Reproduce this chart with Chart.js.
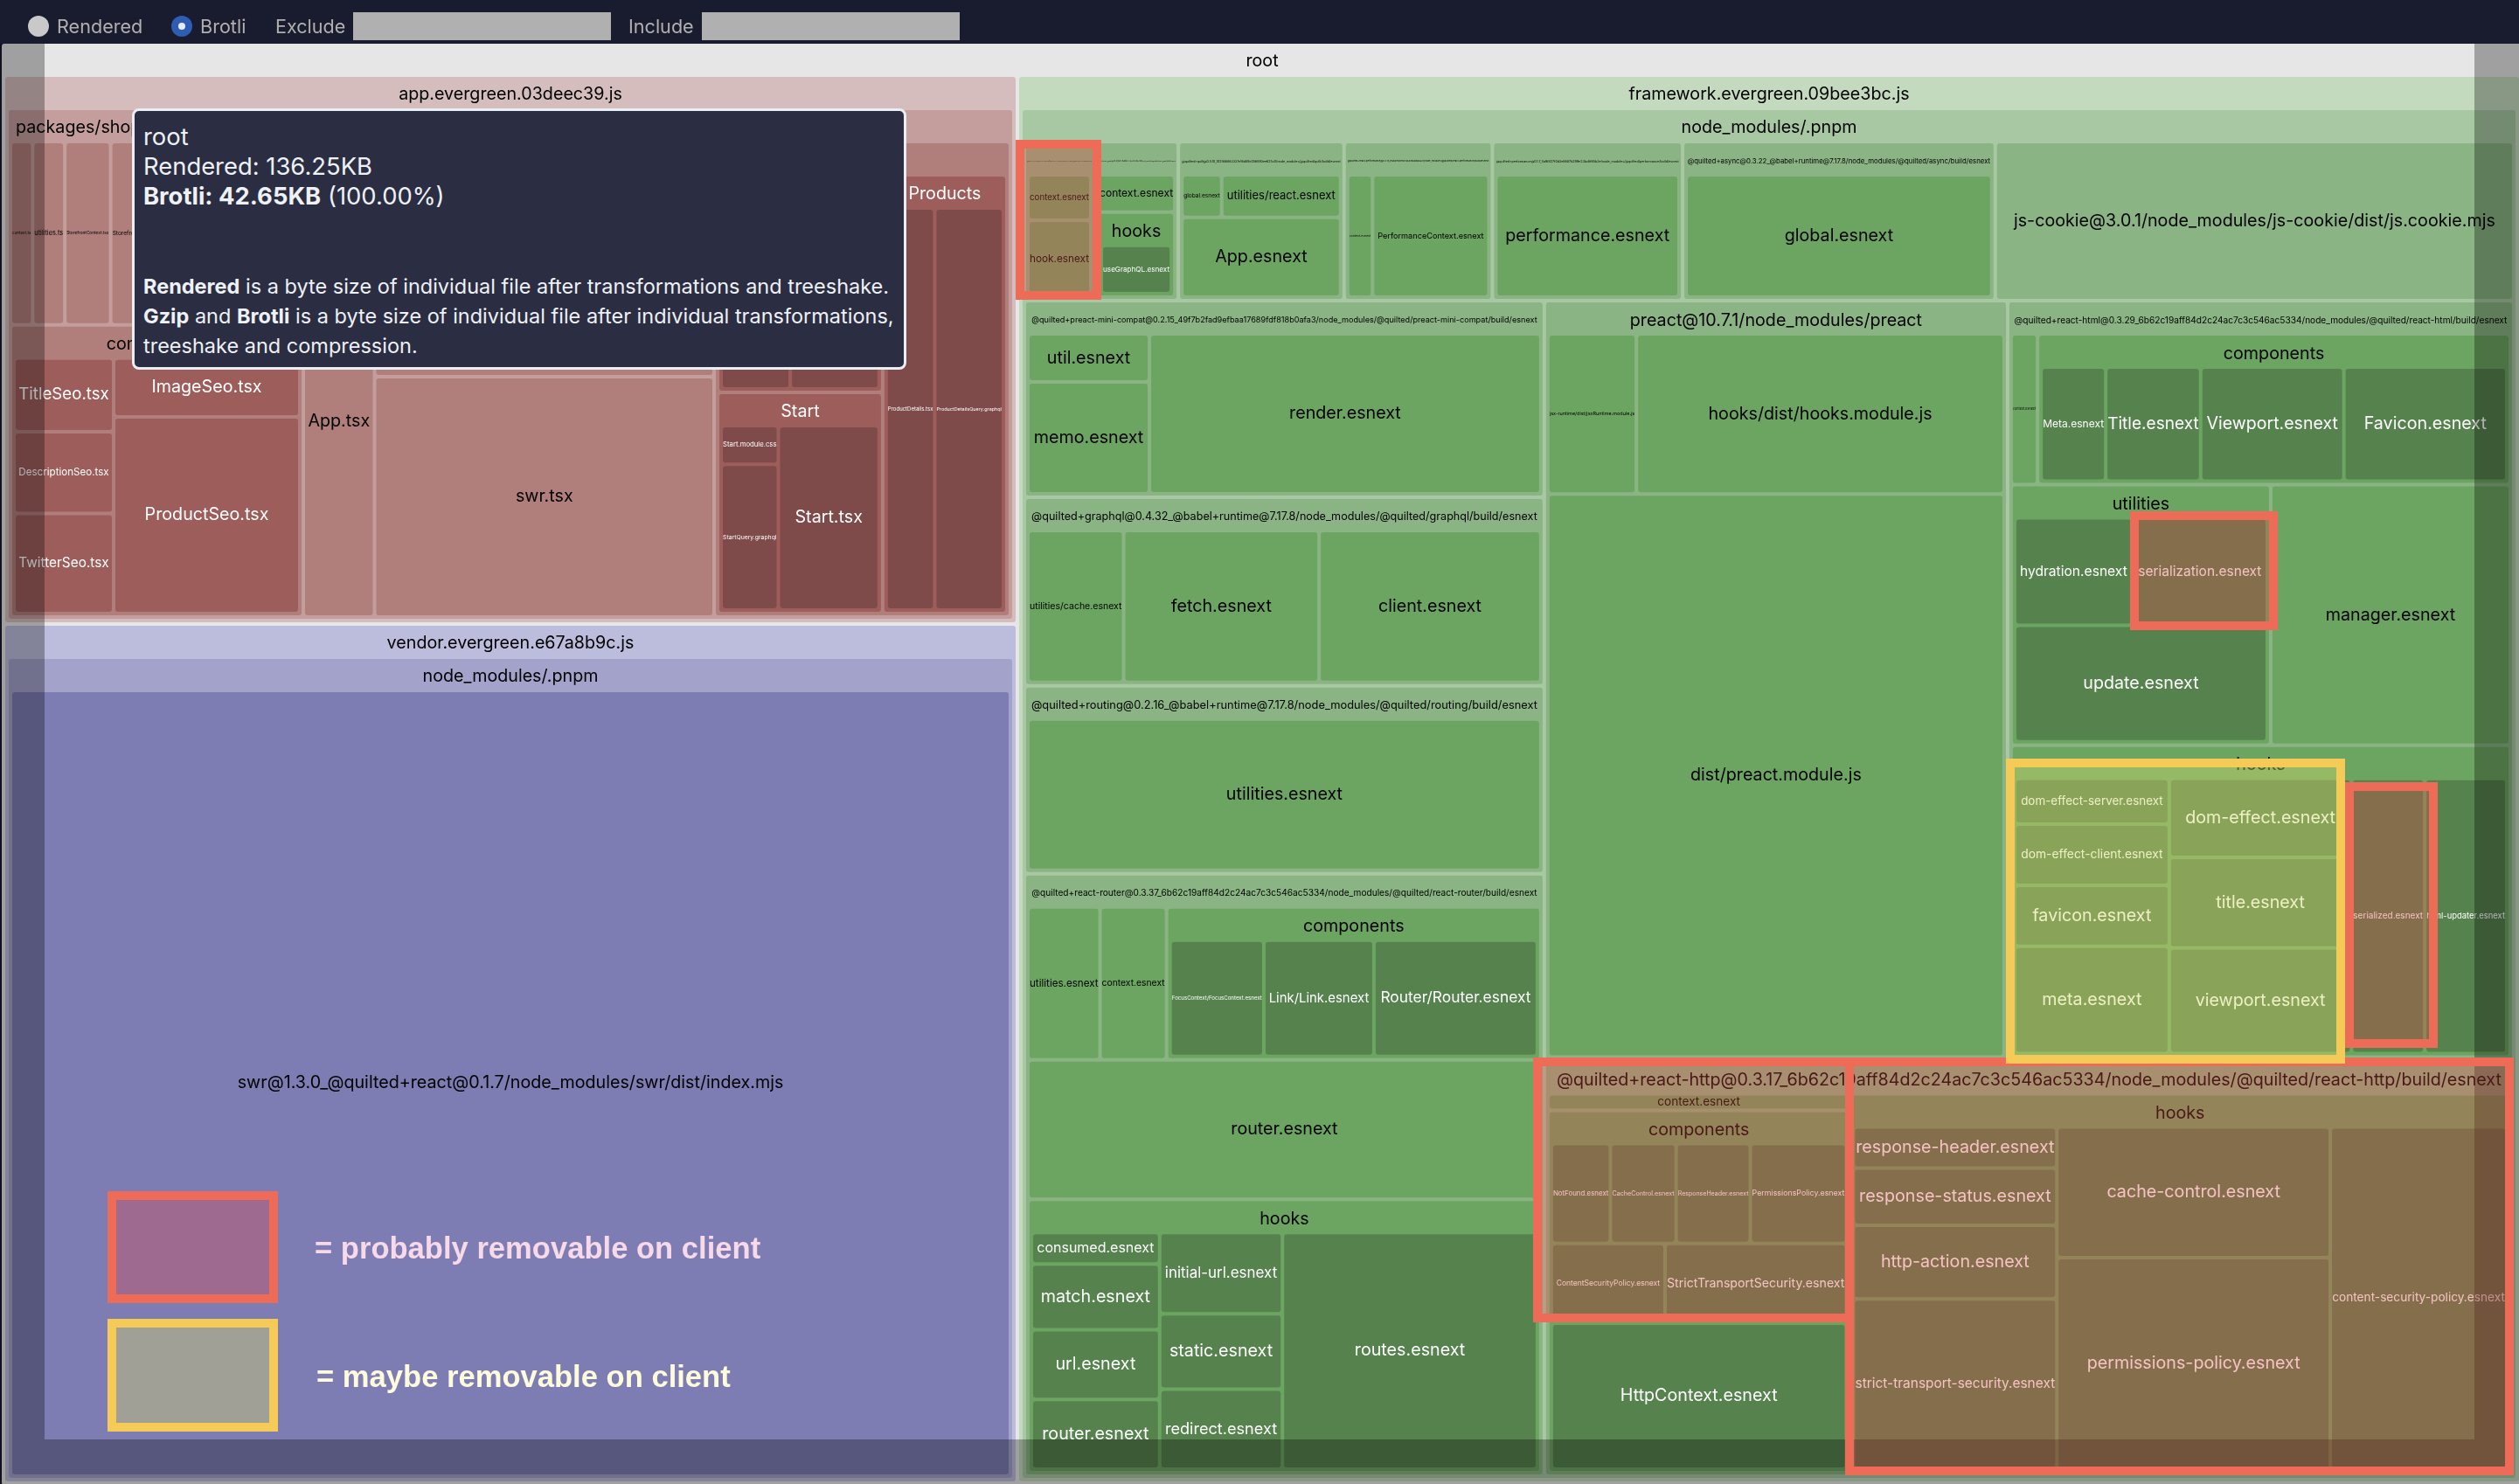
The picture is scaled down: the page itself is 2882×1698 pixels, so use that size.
<!DOCTYPE html>
<html>
<head>
<meta charset="utf-8">
<title>Bundle treemap</title>
<script src="https://cdn.jsdelivr.net/npm/chart.js@4/dist/chart.umd.js"></script>
<style>
    html, body { margin: 0; padding: 0; width: 2882px; height: 1698px; overflow: hidden; background: #191b2e; font-family: 'Inter', sans-serif; }
    #treemap { position: absolute; left: 0; top: 0; display: block; }
    .ctl { position: absolute; top: 14px; height: 32px; line-height: 32px; font-size: 21.6px; color: #b0b0b0; white-space: nowrap; }
    .radio { position: absolute; top: 18px; width: 24px; height: 24px; border-radius: 50%; background: #c9c9c9; }
    .radio.on { background: #2f5db4; }
    .radio.on::after { content: ''; position: absolute; left: 8px; top: 8px; width: 8px; height: 8px; border-radius: 50%; background: #e8eef8; }
    .field { position: absolute; top: 14px; height: 32px; width: 295px; background: #b0b0b0; }
    #tip { position: absolute; left: 151px; top: 124px; width: 880px; height: 293px; background: #2b2e42; border: 3px solid #e9edf4; border-radius: 8px; color: #eef1f6; white-space: nowrap; }
    #tip div { position: absolute; left: 10px; height: 34px; line-height: 34px; }
    #tip .big { font-size: 27.4px; }
    #tip .small { font-size: 23.5px; }
    #tip b { font-weight: 700; }
    .note { position: absolute; font-family: 'Liberation Sans', sans-serif; font-weight: 700; font-size: 34.6px; line-height: 40px; white-space: nowrap; }
</style>
</head>
<body>
<canvas id="treemap" width="2882" height="1698"></canvas>

<div class="radio" style="left:32px"></div>
<div class="ctl" style="left:65px">Rendered</div>
<div class="radio on" style="left:196px"></div>
<div class="ctl" style="left:229px">Brotli</div>
<div class="ctl" style="left:315px">Exclude</div>
<div class="field" style="left:404px"></div>
<div class="ctl" style="left:719px">Include</div>
<div class="field" style="left:803px"></div>

<div id="tip">
    <div class="big" style="top:12px">root</div>
    <div class="big" style="top:46px">Rendered: 136.25KB</div>
    <div class="big" style="top:80px"><b>Brotli: 42.65KB</b> (100.00%)</div>
    <div class="small" style="top:184px"><b>Rendered</b> is a byte size of individual file after transformations and treeshake.</div>
    <div class="small" style="top:218px"><b>Gzip</b> and <b>Brotli</b> is a byte size of individual file after individual transformations,</div>
    <div class="small" style="top:252px">treeshake and compression.</div>
</div>

<div class="note" style="left:360px;top:1408px;color:#f8d9e8">= probably removable on client</div>
<div class="note" style="left:362px;top:1555px;color:#fdfbd9">= maybe removable on client</div>

<script>
// Module names and sizes (bytes), listed in tree order
const rootName = 'root';
const rootSize = 42650;

const appNames = [
    'app.evergreen.03deec39.js', 'packages/shop',
    'context.ts', 'utilities.ts', 'StorefrontContext.tsx', 'StorefrontProvider.tsx', '',
    'components', 'TitleSeo.tsx', 'DescriptionSeo.tsx', 'TwitterSeo.tsx', 'ImageSeo.tsx', 'ProductSeo.tsx',
    '', 'App.tsx', '', 'swr.tsx',
    '', '', '', '', 'Start', 'Start.module.css', 'StartQuery.graphql', 'Start.tsx',
    'Products', 'ProductDetails.tsx', 'ProductDetailsQuery.graphql'
];
const appSizes = [
    6493, 6019,
    41, 63, 93, 130, 278,
    972, 80, 89, 110, 118, 412,
    378, 309, 590, 943,
    1596, 408, 139, 181, 415, 23, 93, 210,
    615, 210, 304
];

const vendorNames = ['vendor.evergreen.e67a8b9c.js', 'node_modules/.pnpm', 'swr@1.3.0_@quilted+react@0.1.7/node_modules/swr/dist/index.mjs'];
const vendorSizes = [10187, 9691, 9192];

const frameworkNames = [
    'framework.evergreen.09bee3bc.js', 'node_modules/.pnpm',
    '@quilted+react-query@0.3.40_6b62c19aff84d2c24ac7c3c546ac5334/node_modules/@quilted/react-query/build/esnext', 'context.esnext', 'hook.esnext',
    '@quilted+react-graphql@0.4.40_6b62c19aff84d2c24ac7c3c546ac5334/node_modules/@quilted/react-graphql/build/esnext', 'context.esnext', 'hooks', 'useGraphQL.esnext',
    '@quilted+quilt@0.5.10_102566863337e16d89c056893ee625c0/node_modules/@quilted/quilt/build/esnext', 'global.esnext', 'utilities/react.esnext', 'App.esnext',
    '@quilted+react-performance@0.3.18_e669e00e8914667d2b6b62c1/node_modules/@quilted/react-performance/build/esnext', 'context.esnext', 'PerformanceContext.esnext',
    '@quilted+performance@0.1.7_4a9f827f0d3e8687b299e23bc6f65b3e/node_modules/@quilted/performance/build/esnext', 'performance.esnext',
    '@quilted+async@0.3.22_@babel+runtime@7.17.8/node_modules/@quilted/async/build/esnext', 'global.esnext',
    'js-cookie@3.0.1/node_modules/js-cookie/dist/js.cookie.mjs',
    '@quilted+preact-mini-compat@0.2.15_49f7b2fad9efbaa17689fdf818b0afa3/node_modules/@quilted/preact-mini-compat/build/esnext', 'util.esnext', 'memo.esnext', 'render.esnext',
    '@quilted+graphql@0.4.32_@babel+runtime@7.17.8/node_modules/@quilted/graphql/build/esnext', 'utilities/cache.esnext', 'fetch.esnext', 'client.esnext',
    '@quilted+routing@0.2.16_@babel+runtime@7.17.8/node_modules/@quilted/routing/build/esnext', 'utilities.esnext',
    '@quilted+react-router@0.3.37_6b62c19aff84d2c24ac7c3c546ac5334/node_modules/@quilted/react-router/build/esnext', 'utilities.esnext', 'context.esnext',
    'components', 'FocusContext/FocusContext.esnext', 'Link/Link.esnext', 'Router/Router.esnext', 'router.esnext',
    'hooks', 'consumed.esnext', 'match.esnext', 'url.esnext', 'router.esnext', 'initial-url.esnext', 'static.esnext', 'redirect.esnext', 'routes.esnext',
    'preact@10.7.1/node_modules/preact', 'jsx-runtime/dist/jsxRuntime.module.js', 'hooks/dist/hooks.module.js', 'dist/preact.module.js',
    '@quilted+react-html@0.3.29_6b62c19aff84d2c24ac7c3c546ac5334/node_modules/@quilted/react-html/build/esnext', 'context.esnext',
    'components', 'Meta.esnext', 'Title.esnext', 'Viewport.esnext', 'Favicon.esnext',
    'utilities', 'hydration.esnext', 'serialization.esnext', 'update.esnext', 'manager.esnext',
    'hooks', 'dom-effect-server.esnext', 'dom-effect-client.esnext', 'favicon.esnext', 'meta.esnext', 'dom-effect.esnext', 'title.esnext', 'viewport.esnext', 'serialized.esnext', 'html-updater.esnext',
    '@quilted+react-http@0.3.17_6b62c19aff84d2c24ac7c3c546ac5334/node_modules/@quilted/react-http/build/esnext', 'context.esnext',
    'components', 'NotFound.esnext', 'CacheControl.esnext', 'ResponseHeader.esnext', 'PermissionsPolicy.esnext', 'ContentSecurityPolicy.esnext', 'StrictTransportSecurity.esnext', 'HttpContext.esnext',
    'hooks', 'response-header.esnext', 'response-status.esnext', 'http-action.esnext', 'strict-transport-security.esnext', 'cache-control.esnext', 'permissions-policy.esnext', 'content-security-policy.esnext'
];
const frameworkSizes = [
    24760, 24500,
    122, 29, 51,
    148, 29, 70, 1,
    298, 17, 54, 139,
    266, 30, 158,
    343, 1,
    568, 1,
    946,
    1173, 63, 153, 710,
    1125, 161, 335, 381,
    1120, 888,
    3640, 122, 112,
    659, 122, 144, 216, 811,
    1612, 43, 95, 101, 101, 112, 103, 110, 685,
    4082, 159, 681, 2999,
    4462, 40,
    819, 81, 121, 185, 211,
    781, 142, 163, 331, 720,
    1799, 78, 107, 106, 192, 163, 188, 220, 223, 251,
    4657, 47,
    1277, 66, 74, 84, 110, 101, 163, 493,
    2913, 92, 131, 171, 406, 410, 670, 692
];

// Tree shapes: 0 is a module, G a named folder, R and C unnamed rows and columns
const G = (dir, ...kids) => ({ named: true, dir, kids });
const R = (...kids) => ({ named: false, dir: 'h', kids });
const C = (...kids) => ({ named: false, dir: 'v', kids });

const appShape = G('h', G('h',
    C(R(0, 0, 0, 0, 0), G('h', C(0, 0, 0), C(0, 0))),
    C(0, R(0, C(0, 0))),
    G('h', C(G('h', 0, 0), G('h', C(0, 0), 0)), G('h', 0, 0))
));
const vendorShape = G('h', G('h', 0));
const frameworkShape = G('h', G('v',
    R(G('v', 0, 0), G('v', 0, G('h', 0)), G('v', R(0, 0), 0), G('h', 0, 0), G('h', 0), G('h', 0), 0),
    R(
        C(
            G('h', C(0, 0), 0),
            G('h', 0, 0, 0),
            G('h', 0),
            G('v', R(0, 0, G('h', 0, 0, 0)), 0, G('h', C(0, 0, 0, 0), C(0, 0, 0), 0))
        ),
        C(
            R(
                G('v', R(0, 0), 0),
                G('v',
                    R(0, G('h', 0, 0, 0, 0)),
                    R(G('v', R(0, 0), 0), 0),
                    G('h', C(0, 0, 0, 0), C(0, 0, 0), 0, 0)
                )
            ),
            G('h',
                C(0, G('v', R(0, 0, 0, 0), R(0, 0), 0)),
                G('h', C(0, 0, 0, 0), C(0, 0), 0)
            )
        )
    )
));

// Styling
const WIDTH = 2882;
const HEIGHT = 1698;
const HEADER = 38;
const PADDING = 4;
const GAP = 4;
const BASE_FONT = 19.7;
const LEFT_LABELS = ['packages/shop'];

const ROOT_COLOR = '#e6e6e6';
const SHADES = {
    app: ['#d5bdbd', '#c49e9c', '#b07e7b', '#9c5d5b', '#7f4b4a'],
    vendor: ['#bcbcdc', '#a3a2cb', '#7d7cb3', '#6a69a0', '#55548a'],
    framework: ['#c4dabe', '#a7c8a2', '#8ab483', '#6ca562', '#55824d']
};

const SHADE_BANDS = [
    [0, 50, 51, 1698],
    [2831, 50, 2882, 1698],
    [51, 1647, 2831, 1698]
];
const RED = { line: '#ee6b58', fill: 'rgba(228, 70, 73, 0.33)' };
const YELLOW = { line: '#f5ca56', fill: 'rgba(215, 215, 108, 0.4)' };
const REMOVABLE_BOXES = [
    [1162, 160, 1260, 343, RED],
    [2437, 585, 2606, 721, RED],
    [2683, 895, 2789, 1199, RED],
    [1754, 1210, 2121, 1513, RED],
    [2111, 1210, 2876, 1688, RED],
    [2295, 868, 2683, 1217, YELLOW],
    [123, 1363, 318, 1491, RED],
    [123, 1509, 318, 1638, YELLOW]
];

/**
 * Turn a shape into a tree, taking names and sizes in order
 */
function buildNode(shape, names, sizes, cursor, depth, hue) {
    if (shape === 0) {
        const i = cursor.i++;
        return { name: names[i], size: sizes[i], depth, hue, named: true, kids: [] };
    }
    if (shape.named) {
        const i = cursor.i++;
        const kids = shape.kids.map(k => buildNode(k, names, sizes, cursor, depth + 1, hue));
        return { name: names[i], size: sizes[i], depth, hue, named: true, dir: shape.dir, kids };
    }
    const kids = shape.kids.map(k => buildNode(k, names, sizes, cursor, depth, hue));
    return { size: kids.reduce((a, k) => a + k.size, 0), depth, hue, named: false, dir: shape.dir, kids };
}

/**
 * Slice each node between its children by size, collect the named ones
 */
function layoutNode(node, x0, y0, x1, y1, out) {
    if (node.named) {
        out.push({ name: node.name, size: node.size, depth: node.depth, hue: node.hue, isGroup: node.kids.length > 0, x0, y0, x1, y1 });
    }
    if (!node.kids.length) return;

    if (node.named) {
        x0 += PADDING;
        y0 += HEADER;
        x1 -= PADDING;
        y1 -= PADDING;
    }
    const horizontal = node.dir === 'h';
    const total = node.kids.reduce((a, k) => a + k.size, 0);
    const room = (horizontal ? x1 - x0 : y1 - y0) - GAP * (node.kids.length - 1);
    let pos = horizontal ? x0 : y0;
    node.kids.forEach(kid => {
        const len = room * kid.size / total;
        if (horizontal) layoutNode(kid, pos, y0, pos + len, y1, out);
        else layoutNode(kid, x0, pos, x1, pos + len, out);
        pos += len + GAP;
    });
}

function buildCells() {
    const chunk = (shape, names, sizes, hue) => buildNode(shape, names, sizes, { i: 0 }, 1, hue);
    const appNode = chunk(appShape, appNames, appSizes, 'app');
    const vendorNode = chunk(vendorShape, vendorNames, vendorSizes, 'vendor');
    const frameworkNode = chunk(frameworkShape, frameworkNames, frameworkSizes, 'framework');
    const left = { size: appNode.size + vendorNode.size, named: false, dir: 'v', kids: [appNode, vendorNode] };
    const root = { name: rootName, size: rootSize, depth: 0, hue: 'root', named: true, dir: 'h', kids: [left, frameworkNode] };
    const cells = [];
    layoutNode(root, 2, 50, WIDTH + 4, HEIGHT + 1, cells);
    return cells;
}

function cellColor(cell) {
    return cell.depth === 0 ? ROOT_COLOR : SHADES[cell.hue][cell.depth - 1];
}

function isDark(hex) {
    const n = parseInt(hex.slice(1), 16);
    return 0.299 * (n >> 16) + 0.587 * ((n >> 8) & 255) + 0.114 * (n & 255) < 125;
}

/**
 * Draws treemap cells with Chart.js bar elements on the chart's own scales
 */
class CellController extends Chart.DatasetController {
    update(mode) {
        const meta = this._cachedMeta;
        this.updateElements(meta.data, 0, meta.data.length, mode);
    }

    updateElements(rects, start, count, mode) {
        const { xScale, yScale } = this._cachedMeta;
        const cells = this.getDataset().data;
        for (let i = start; i < start + count; i++) {
            const c = cells[i];
            const left = xScale.getPixelForValue(c.x0);
            const right = xScale.getPixelForValue(c.x1);
            this.updateElement(rects[i], i, {
                x: (left + right) / 2,
                y: yScale.getPixelForValue(c.y0),
                base: yScale.getPixelForValue(c.y1),
                width: right - left,
                height: yScale.getPixelForValue(c.y1) - yScale.getPixelForValue(c.y0),
                horizontal: false,
                enableBorderRadius: true,
                borderSkipped: {},
                inflateAmount: 0,
                options: this.resolveDataElementOptions(i, mode)
            }, 'none');
        }
    }

    draw() {
        const ctx = this._ctx;
        this._cachedMeta.data.forEach(rect => rect.draw(ctx));
    }
}
CellController.id = 'cell';
CellController.defaults = { dataElementType: 'bar', dataset: { parsing: false } };
Chart.register(CellController);

// Module labels, scaled down when they do not fit their cell
const labelPlugin = {
    id: 'cellLabels',
    afterDatasetsDraw(chart) {
        const { ctx, scales: { x, y } } = chart;
        ctx.save();
        ctx.textBaseline = 'middle';
        chart.data.datasets[0].data.forEach(cell => {
            if (!cell.name) return;
            const left = x.getPixelForValue(cell.x0);
            const right = x.getPixelForValue(cell.x1);
            const top = y.getPixelForValue(cell.y0);
            const bottom = y.getPixelForValue(cell.y1);
            const w = right - left;
            ctx.font = `${BASE_FONT}px Inter`;
            const full = ctx.measureText(cell.name).width;
            let fit = 1;
            if (cell.isGroup) fit = 0.98;
            else if (w > 110 && w < 190) fit = 0.94;
            let size = Math.min(BASE_FONT, BASE_FONT * w * fit / full);
            if (!cell.isGroup) size = Math.min(size, (bottom - top) * 0.9);
            ctx.font = `${size}px Inter`;
            ctx.fillStyle = isDark(cellColor(cell)) ? '#ffffff' : '#000000';
            const textY = cell.isGroup ? top + HEADER / 2 + 1.5 : (top + bottom) / 2;
            if (LEFT_LABELS.includes(cell.name)) {
                ctx.textAlign = 'left';
                ctx.fillText(cell.name, left + 8, textY);
            } else {
                ctx.textAlign = 'center';
                ctx.fillText(cell.name, (left + right) / 2, textY);
            }
        });
        ctx.restore();
    }
};

// Dark bands around the slide, then the removable highlights
const overlayPlugin = {
    id: 'overlay',
    afterDraw(chart) {
        const { ctx, scales: { x, y } } = chart;
        const rect = (a, b, c, d) => ctx.fillRect(x.getPixelForValue(a), y.getPixelForValue(b), x.getPixelForValue(c) - x.getPixelForValue(a), y.getPixelForValue(d) - y.getPixelForValue(b));
        ctx.save();
        ctx.fillStyle = 'rgba(0, 0, 0, 0.3)';
        SHADE_BANDS.forEach(b => rect(b[0], b[1], b[2], b[3]));
        const t = 10;
        REMOVABLE_BOXES.forEach(([a, b, c, d, style]) => {
            ctx.fillStyle = style.fill;
            rect(a + t, b + t, c - t, d - t);
            ctx.fillStyle = style.line;
            rect(a, b, c, b + t);
            rect(a, d - t, c, d);
            rect(a, b + t, a + t, d - t);
            rect(c - t, b + t, c, d - t);
        });
        ctx.restore();
    }
};

new Chart(document.getElementById('treemap'), {
    type: 'cell',
    data: {
        datasets: [{
            data: buildCells(),
            backgroundColor: c => cellColor(c.raw),
            borderWidth: 0,
            borderRadius: 3
        }]
    },
    options: {
        responsive: false,
        animation: false,
        events: [],
        layout: { padding: 0 },
        plugins: { legend: { display: false }, tooltip: { enabled: false } },
        scales: {
            x: { type: 'linear', min: 0, max: WIDTH, display: false },
            y: { type: 'linear', min: 0, max: HEIGHT, reverse: true, display: false }
        }
    },
    plugins: [labelPlugin, overlayPlugin]
});
</script>
</body>
</html>
